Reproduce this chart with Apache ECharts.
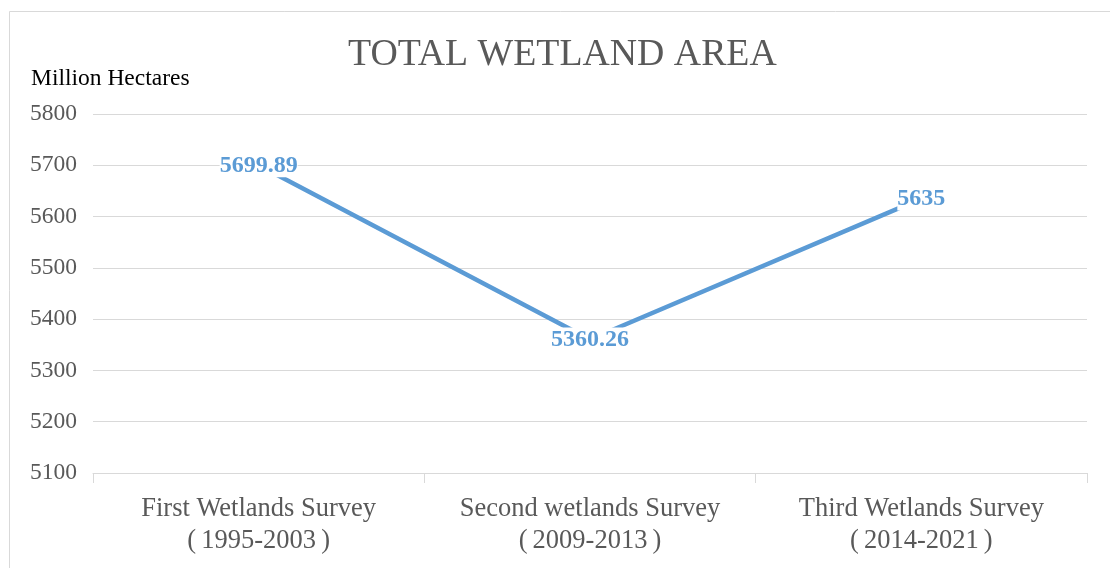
<!DOCTYPE html>
<html>
<head>
<meta charset="utf-8">
<script src="https://cdn.jsdelivr.net/npm/echarts@6/dist/echarts.min.js"></script>
<style>
  html, body { margin: 0; padding: 0; background: #fff; }
  #chart { width: 1110px; height: 568px; }
</style>
</head>
<body>
<div id="chart"></div>
<script>
// Survey periods along the x axis
const categories = [
  'First Wetlands Survey\n（1995-2003）',
  'Second wetlands Survey\n（2009-2013）',
  'Third Wetlands Survey\n（2014-2021）'
];
// Total wetland area per survey, million hectares
const areaValues = [5699.89, 5360.26, 5635];
// Value axis range
const yMin = 5100;
const yMax = 5800;
const yStep = 100;

const serif = "'Liberation Serif', 'Times New Roman', serif";

// Full-width parentheses: glyph set inside a full-width cell
function wrapParens(s) {
  return s.replace(/（/g, '{pl|(}').replace(/）/g, '{pr|)}');
}

const chart = echarts.init(document.getElementById('chart'), null, { renderer: 'canvas' });

const parenStyle = {
  fontFamily: serif,
  fontSize: 26.5,
  color: '#595959',
  lineHeight: 32,
  width: 19
};

chart.setOption({
  backgroundColor: '#ffffff',
  animation: false,
  title: {
    text: 'TOTAL WETLAND AREA',
    left: 343,
    top: 31,
    textStyle: {
      fontFamily: serif,
      fontSize: 37.8,
      fontWeight: 'normal',
      color: '#595959'
    }
  },
  graphic: [
    {
      type: 'rect',
      shape: { x: 9.5, y: 11.5, width: 1120, height: 580 },
      style: { fill: 'none', stroke: '#d9d9d9', lineWidth: 1 },
      silent: true,
      z: -1
    },
    {
      type: 'text',
      left: 31,
      top: 67,
      style: {
        text: 'Million Hectares',
        font: "23.5px " + serif,
        fill: '#000000'
      }
    }
  ],
  grid: {
    left: 93,
    right: 23,
    top: 114,
    bottom: 95,
    containLabel: false
  },
  xAxis: {
    type: 'category',
    data: categories,
    boundaryGap: true,
    axisLine: { show: true, lineStyle: { color: '#d9d9d9', width: 1 } },
    axisTick: { show: true, length: 10, lineStyle: { color: '#d9d9d9' } },
    axisLabel: {
      interval: 0,
      margin: 20,
      fontFamily: serif,
      fontSize: 26.5,
      color: '#595959',
      lineHeight: 32,
      formatter: (v) => wrapParens(v),
      rich: {
        pl: Object.assign({ align: 'right' }, parenStyle),
        pr: Object.assign({ align: 'left' }, parenStyle)
      }
    },
    splitLine: { show: false }
  },
  yAxis: {
    type: 'value',
    min: yMin,
    max: yMax,
    interval: yStep,
    axisLine: { show: false },
    axisTick: { show: false },
    axisLabel: {
      margin: 16,
      fontFamily: serif,
      fontSize: 23.5,
      color: '#595959',
      formatter: (v) => String(v)
    },
    splitLine: { show: true, lineStyle: { color: '#d9d9d9', width: 1 } }
  },
  series: [
    {
      type: 'line',
      data: areaValues,
      symbol: 'circle',
      symbolSize: 2,
      showSymbol: true,
      itemStyle: { color: 'rgba(0,0,0,0)', borderWidth: 0 },
      lineStyle: { color: '#5b9bd5', width: 4.5 },
      label: {
        show: true,
        position: 'inside',
        formatter: (p) => String(p.value),
        fontFamily: serif,
        fontSize: 24,
        fontWeight: 'bold',
        color: '#5b9bd5',
        backgroundColor: '#ffffff',
        padding: [0, 0]
      },
      labelLayout: { hideOverlap: false },
      z: 3
    }
  ]
});
</script>
</body>
</html>
